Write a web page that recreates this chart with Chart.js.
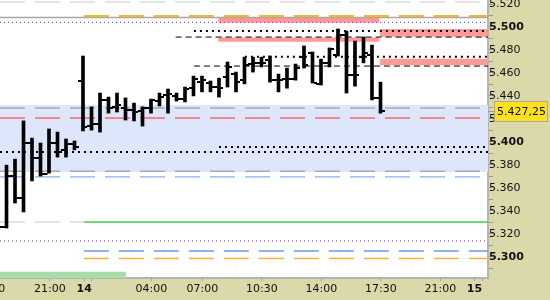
<!DOCTYPE html>
<html>
<head>
<meta charset="utf-8">
<script src="https://cdn.jsdelivr.net/npm/chart.js@4.4.1/dist/chart.umd.min.js"></script>
<style>
  html, body { margin: 0; padding: 0; background: #dbd8aa; }
  #wrap { position: relative; width: 550px; height: 300px; }
</style>
</head>
<body>
<div id="wrap"><canvas id="priceChart"></canvas></div>
<script>
// 30 min bars, first entry is the bar cut off at the left edge
const openP  = [5330.0, 5325.75, 5370.0, 5350.75, 5399.0, 5386.0, 5372.0, 5399.0, 5393.0, 5398.0,
                5453.0, 5413.75, 5415.5, 5436.5, 5430.5, 5429.5, 5427.75, 5426.75, 5429.5, 5435.5,
                5440.75, 5439.75, 5437.25, 5446.75, 5452.0, 5451.25, 5447.75, 5456.5, 5459.0, 5453.75,
                5467.75, 5468.75, 5471.25, 5453.75, 5454.75, 5454.75, 5473.75, 5477.25, 5450.25, 5468.75,
                5475.5, 5493.0, 5458.25, 5473.75, 5475.5, 5438.25];
const highP  = [5334.0, 5379.75, 5385.0, 5418.25, 5403.25, 5399.0, 5411.25, 5408.5, 5402.5, 5400.75,
                5474.75, 5430.5, 5442.5, 5439.0, 5442.5, 5438.25, 5433.75, 5430.5, 5437.25, 5442.5,
                5446.0, 5442.5, 5447.75, 5457.25, 5457.25, 5453.0, 5455.5, 5469.5, 5460.75, 5473.75,
                5473.75, 5473.75, 5474.75, 5459.0, 5464.25, 5467.75, 5483.5, 5478.25, 5472.0, 5481.75,
                5498.25, 5496.5, 5487.75, 5491.25, 5484.25, 5452.0];
const lowP   = [5322.0, 5325.0, 5346.75, 5339.0, 5366.0, 5370.25, 5372.75, 5386.75, 5386.75, 5393.0,
                5409.5, 5410.25, 5408.5, 5425.0, 5426.0, 5419.0, 5418.25, 5413.75, 5425.0, 5431.25,
                5425.0, 5435.5, 5434.75, 5440.0, 5443.5, 5443.5, 5439.0, 5447.75, 5443.5, 5450.5,
                5460.75, 5465.25, 5452.0, 5443.5, 5446.75, 5453.75, 5464.25, 5451.25, 5449.5, 5465.25,
                5474.75, 5442.5, 5448.5, 5468.75, 5436.5, 5425.0];
const closeP = [5325.75, 5370.0, 5350.75, 5399.0, 5386.0, 5372.0, 5399.0, 5391.25, 5398.0, 5395.5,
                5413.0, 5415.5, 5436.5, 5429.5, 5432.0, 5427.75, 5426.0, 5429.5, 5436.5, 5439.0,
                5441.75, 5437.25, 5446.0, 5454.75, 5453.75, 5447.75, 5446.75, 5465.25, 5452.0, 5467.0,
                5468.75, 5468.75, 5453.75, 5453.75, 5454.75, 5464.25, 5467.0, 5451.25, 5468.75, 5480.75,
                5493.0, 5458.25, 5458.25, 5477.25, 5438.25, 5427.25];

// horizontal levels (from / to in bar numbers, null = whole window)
const levelPrice = [5521.75, 5509.5, 5508.25, 5504.0, 5496.5, 5491.25, 5474.0, 5466.0, 5429.5, 5420.75,
                    5395.5, 5391.25, 5374.5, 5369.5, 5330.25, 5330.25, 5313.75, 5305.0, 5298.5];
const levelFrom  = [null, 9.1, null, null, 22.05, 19.9, 28.05, 22.05, null, null,
                    25.0, null, null, null, null, 9.1, null, 9.1, 9.1];
const levelTo    = [null, null, null, null, null, null, null, null, null, null,
                    null, null, null, null, 9.1, null, null, null, null];

// red zones
const zoneFrom = [24.9, 24.9, 43.9, 43.9];
const zoneTo   = [43.9, 43.9, null, null];
const zoneLow  = [5503.75, 5487.25, 5491.5, 5466.75];
const zoneHigh = [5508.25, 5490.75, 5498.25, 5472.25];

// value area band and session bar
const bandLow = 5373.75, bandHigh = 5432.0;
const sessionTo = 14.05, sessionLow = 5281.5, sessionHigh = 5287.0;

// axes
const xTickPos    = [-2, 5.1, 9.15, 9.95, 17.05, 23.05, 30.05, 37.05, 44.05, 51.05, 55.05, 56];
const xTickLabels = ['17:30', '21:00', '14', '', '04:00', '07:00', '10:30', '14:00', '17:30', '21:00', '15', ''];
const yTicks = [5290, 5300, 5310, 5320, 5330, 5340, 5350, 5360, 5370, 5380, 5390, 5400,
                5410, 5420, 5430, 5440, 5450, 5460, 5470, 5480, 5490, 5500, 5510, 5520];

const X_MIN = -0.765, X_MAX = 56.65;
const Y_MIN = 5281.5, Y_MAX = 5523.5;

Chart.defaults.font.family = 'DejaVu Sans';
Chart.defaults.font.size = 11;

function fmtPrice(v, dec) {
    const parts = v.toFixed(dec).split('.');
    const intPart = parts[0].replace(/\B(?=(\d{3})+(?!\d))/g, '.');
    return parts[1] ? intPart + ',' + parts[1] : intPart;
}

// small images used as point style for open / close ticks
function tickImage(isOpen) {
    const c = document.createElement('canvas');
    c.width = 9; c.height = 2;
    const g = c.getContext('2d');
    g.fillStyle = '#000';
    g.fillRect(isOpen ? 0 : 6, 0, 3, 2);
    return c;
}

const levelStyles = [
    { color: '#c8c8c8', width: 1,   dash: [25, 10] },
    { color: '#f8b531', width: 2,   dash: [25, 10] },
    { color: '#a8a8a8', width: 1.5, dash: [] },
    { color: '#8e24d8', width: 1,   dash: [1, 3] },
    { color: '#000',    width: 2,   dash: [2, 4] },
    { color: '#000',    width: 1,   dash: [6, 4] },
    { color: '#000',    width: 2,   dash: [2, 4] },
    { color: '#000',    width: 1,   dash: [6, 4] },
    { color: '#8c8c8c', width: 1,   dash: [25, 10] },
    { color: '#ff2a2a', width: 1,   dash: [25, 10] },
    { color: '#000',    width: 2,   dash: [2, 4] },
    { color: '#000',    width: 2,   dash: [2, 4] },
    { color: '#8c8c8c', width: 1,   dash: [25, 10] },
    { color: '#6a9af0', width: 1,   dash: [25, 10] },
    { color: '#c8c8c8', width: 1,   dash: [25, 10] },
    { color: '#44cc44', width: 1.5, dash: [] },
    { color: '#8e24d8', width: 1,   dash: [1, 3] },
    { color: '#6a9af0', width: 1.5, dash: [25, 10] },
    { color: '#f8b531', width: 1.5, dash: [25, 10] }
];

const datasets = [];

datasets.push({
    type: 'line', order: 30,
    data: [{ x: X_MIN, y: bandHigh }, { x: X_MAX, y: bandHigh }],
    fill: { value: bandLow }, backgroundColor: '#dee6fc',
    borderWidth: 0, pointRadius: 0
});

zoneLow.forEach((lo, i) => {
    datasets.push({
        type: 'line', order: 20,
        data: [{ x: zoneFrom[i], y: zoneHigh[i] }, { x: zoneTo[i] ?? X_MAX, y: zoneHigh[i] }],
        fill: { value: lo }, backgroundColor: '#ff9a9a',
        borderWidth: 0, pointRadius: 0
    });
});

datasets.push({
    type: 'line', order: 20,
    data: [{ x: X_MIN, y: sessionHigh }, { x: sessionTo, y: sessionHigh }],
    fill: { value: sessionLow }, backgroundColor: '#a8dca8',
    borderWidth: 0, pointRadius: 0
});

levelPrice.forEach((p, i) => {
    const st = levelStyles[i];
    datasets.push({
        type: 'line', order: 10,
        data: [{ x: levelFrom[i] ?? X_MIN, y: p }, { x: levelTo[i] ?? X_MAX, y: p }],
        borderColor: st.color, borderWidth: st.width, borderDash: st.dash,
        borderCapStyle: 'butt', pointRadius: 0, fill: false
    });
});

// high-low bars
datasets.push({
    type: 'bar', order: 2, grouped: false,
    data: highP.map((h, i) => ({ x: i - 1, y: [lowP[i], h] })),
    backgroundColor: '#000', borderWidth: 0, barThickness: 3
});

datasets.push({
    type: 'line', order: 1, showLine: false,
    data: openP.map((o, i) => ({ x: i - 1, y: o })),
    pointStyle: tickImage(true), pointRadius: 3
});
datasets.push({
    type: 'line', order: 1, showLine: false,
    data: closeP.map((c, i) => ({ x: i - 1, y: c })),
    pointStyle: tickImage(false), pointRadius: 3
});

const lastPrice = closeP[closeP.length - 1];

const panelPlugin = {
    id: 'panel',
    beforeDraw(chart) {
        const { ctx, chartArea } = chart;
        ctx.save();
        ctx.fillStyle = '#ffffff';
        ctx.fillRect(chartArea.left, chartArea.top, chartArea.right - chartArea.left, chartArea.bottom - chartArea.top);
        ctx.restore();
    },
    afterDraw(chart) {
        const { ctx, chartArea } = chart;
        const y = Math.round(chart.scales.y.getPixelForValue(lastPrice)) + 0.5;
        const left = chartArea.right + 6;
        ctx.save();
        ctx.strokeStyle = '#9a9a9a';
        ctx.lineWidth = 1;
        ctx.beginPath();
        ctx.moveTo(chartArea.right, y);
        ctx.lineTo(left, y);
        ctx.stroke();
        ctx.fillStyle = '#ffe11e';
        ctx.fillRect(left, y - 10.5, 54, 21);
        ctx.strokeStyle = '#a8a8a8';
        ctx.strokeRect(left + 0.5, y - 10, 53, 20);
        ctx.fillStyle = '#111';
        ctx.font = '11px "DejaVu Sans"';
        ctx.textBaseline = 'middle';
        ctx.fillText(fmtPrice(lastPrice, 2), left + 3, y + 0.5);
        ctx.restore();
    }
};

const ctx = document.getElementById('priceChart').getContext('2d');
const chart = new Chart(ctx, {
    type: 'line',
    data: { datasets: datasets },
    options: {
        responsive: true,
        maintainAspectRatio: false,
        animation: false,
        layout: { padding: 0, autoPadding: false },
        plugins: { legend: { display: false }, tooltip: { enabled: false } },
        scales: {
            x: {
                type: 'linear', min: X_MIN, max: X_MAX, bounds: 'data', offset: false,
                grid: { drawOnChartArea: false, offset: false, tickLength: 3, tickColor: '#a0a0a0' },
                border: { color: '#b4b4b4', width: 2 },
                afterBuildTicks: s => { s.ticks = xTickPos.map(v => ({ value: v })); },
                afterFit: s => { s.height = 22; s.paddingLeft = 0; s.paddingRight = 0; },
                ticks: {
                    autoSkip: false, maxRotation: 0, padding: 2, color: '#111',
                    font: c => ({ size: 11, weight: /^\d\d$/.test(xTickLabels[c.index]) ? 'bold' : 'normal' }),
                    callback: (v, i) => xTickLabels[i]
                }
            },
            y: {
                type: 'linear', position: 'right', min: Y_MIN, max: Y_MAX, bounds: 'data',
                grid: { drawOnChartArea: false, tickLength: 5, tickColor: '#9a9a9a' },
                border: { color: '#b4b4b4', width: 2 },
                afterBuildTicks: s => { s.ticks = yTicks.map(v => ({ value: v })); },
                afterFit: s => { s.width = 62; s.paddingTop = 0; s.paddingBottom = 0; },
                ticks: {
                    autoSkip: false, padding: -4, color: '#111',
                    font: c => ({ size: 11, weight: c.tick && c.tick.value % 100 === 0 ? 'bold' : 'normal' }),
                    callback: v => (v % 20 === 0 ? fmtPrice(v, 0) : '')
                }
            }
        }
    },
    plugins: [panelPlugin]
});
</script>
</body>
</html>
